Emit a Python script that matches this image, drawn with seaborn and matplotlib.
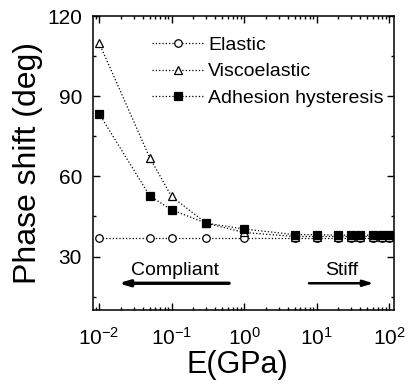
import matplotlib
matplotlib.use("Agg")
import matplotlib.pyplot as plt
import seaborn as sns
import numpy as np
import pandas as pd
from matplotlib.ticker import MultipleLocator, LogLocator, NullFormatter

# Data
E_gpa = [0.01, 0.05, 0.1, 0.3, 1, 5, 10, 20, 30, 40, 60, 80, 100]
elastic = [37, 37, 37, 37, 37, 37, 37, 37, 37, 37, 37, 37, 37]
viscoelastic = [110, 67, 52.5, 42.5, 39, 37.5, 37.5, 37.5, 37.5, 37.5, 37.5, 37.5, 37.5]
adhesion = [83.5, 52.7, 47.5, 42.5, 40.3, 38.2, 38.2, 38, 38, 38, 38, 38, 38]
series_labels = ["Elastic", "Viscoelastic", "Adhesion hysteresis"]
y_ticks = [30, 60, 90, 120]

sns.set_style("ticks")
plt.rcParams["font.family"] = ["Liberation Sans", "DejaVu Sans"]
plt.rcParams["mathtext.fontset"] = "custom"
plt.rcParams["mathtext.rm"] = "Liberation Sans"
plt.rcParams["mathtext.it"] = "Liberation Sans:italic"
plt.rcParams["mathtext.bf"] = "Liberation Sans:bold"
for key in ["text.color", "axes.labelcolor", "xtick.color", "ytick.color", "axes.edgecolor"]:
    plt.rcParams[key] = "black"

fig = plt.figure(figsize=(4.09, 3.88), dpi=100)
ax = fig.add_axes([93 / 409, 1 - 310 / 388, 301 / 409, 294 / 388])

df = pd.DataFrame({"E": E_gpa, "Elastic": elastic, "Viscoelastic": viscoelastic,
                   "Adhesion hysteresis": adhesion})

styles = {
    "Elastic": dict(marker="o", markersize=5.4, markerfacecolor="white"),
    "Viscoelastic": dict(marker="^", markersize=6.2, markerfacecolor="white"),
    "Adhesion hysteresis": dict(marker="s", markersize=5.8, markerfacecolor="black"),
}
for name in series_labels:
    sns.lineplot(data=df, x="E", y=name, ax=ax, color="black", linestyle=":",
                 linewidth=0.9, markeredgecolor="black", markeredgewidth=0.9,
                 label=name, **styles[name])

ax.set_xscale("log")
ax.set_xlim(0.00826, 117)
ax.set_ylim(10, 120)
ax.set_yticks(y_ticks)
ax.yaxis.set_minor_locator(MultipleLocator(15))
ax.xaxis.set_major_locator(LogLocator(base=10, numticks=10))
ax.xaxis.set_minor_locator(LogLocator(base=10, subs=np.arange(2, 10), numticks=20))
ax.xaxis.set_minor_formatter(NullFormatter())

ax.tick_params(which="both", direction="in", top=True, right=True, width=1.0)
ax.tick_params(which="major", length=5, labelsize=15)
ax.tick_params(axis="y", which="major", pad=8)
ax.tick_params(axis="x", which="major", pad=12)
ax.tick_params(which="minor", length=2.5)
for s in ax.spines.values():
    s.set_linewidth(1.1)
    s.set_color("black")

ax.set_xlabel("E(GPa)", fontsize=22, labelpad=1)
ax.xaxis.label.set_x(0.48)
ax.set_ylabel("Phase shift (deg)", fontsize=23, labelpad=3)

# Annotations
ax.annotate("", xy=(0.017, 20), xytext=(0.68, 20),
            arrowprops=dict(arrowstyle="-|>,head_length=0.6,head_width=0.18", color="black", lw=2.4))
ax.annotate("", xy=(67, 20), xytext=(7.2, 20),
            arrowprops=dict(arrowstyle="-|>,head_length=0.6,head_width=0.18", color="black", lw=1.8))
ax.text(0.11, 23.2, "Compliant", fontsize=14, ha="center", va="baseline")
ax.text(22.4, 23.2, "Stiff", fontsize=14, ha="center", va="baseline")

leg = ax.legend(loc="upper left", bbox_to_anchor=(0.195, 0.932), frameon=False,
                fontsize=14, handlelength=2.75, handletextpad=0.15, labelspacing=0.47,
                borderpad=0, borderaxespad=0)

fig.savefig("out.png", dpi=100)
